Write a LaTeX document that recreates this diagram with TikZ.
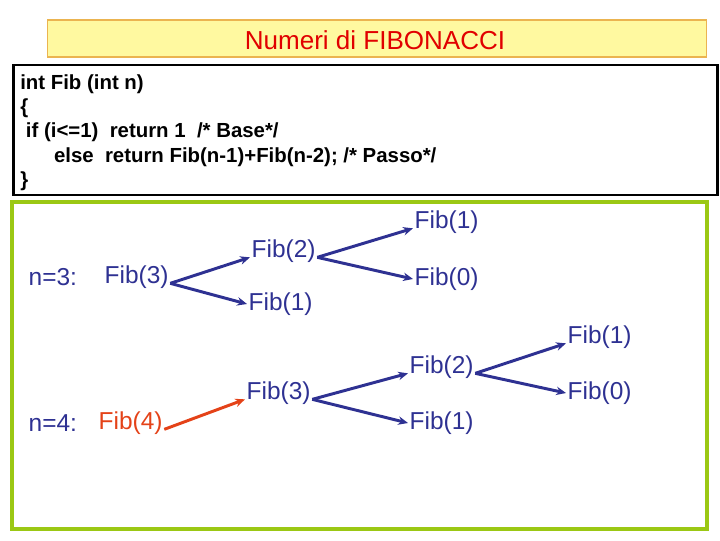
\documentclass[tikz,border=0pt]{standalone}
\usepackage{fontspec}
\setmainfont{Liberation Sans}
\usetikzlibrary{arrows.meta, positioning}

\definecolor{fibblue}{RGB}{46,49,146}
\definecolor{fibred}{RGB}{228,66,24}
\definecolor{leafgreen}{RGB}{155,200,20}
\definecolor{titlefill}{RGB}{255,249,160}
\definecolor{titleline}{RGB}{235,180,80}
\definecolor{titlered}{RGB}{225,0,0}

\begin{document}
\begin{tikzpicture}[
    x=0.025cm, y=-0.025cm,
    callarrow/.style={-{Stealth[length=7pt,width=6pt]}, line width=2.1pt, fibblue},
    fib/.style={font=\fontsize{17.4}{20}\selectfont, text=fibblue, inner sep=1pt, anchor=west},
]
\useasboundingbox (0,0) rectangle (720,540);

% ===================== TITLE =====================
\node[draw=titleline, fill=titlefill, line width=0.8pt,
      minimum width=16.45cm, minimum height=0.925cm] (titlebox) at (377,38.5) {};
\node[font=\fontsize{18.5}{20}\selectfont, text=titlered] (title) at (375,40)
    {Numeri di FIBONACCI};

% ===================== CODE =====================
\node[draw, line width=2.1pt, fill=white,
      minimum width=17.575cm, minimum height=3.25cm] (codebox) at (365.5,130) {};
\node[font=\bfseries\fontsize{14.5}{17.4}\selectfont, align=left, inner sep=0pt,
      anchor=north west] (code) at (20,74) {%
    int Fib (int n)\\
    \{\\
    \ if (i<=1)\ \ return 1\ \ /* Base*/\\
    \hspace*{24pt}else\ \ return Fib(n-1)+Fib(n-2); /* Passo*/\\
    \}};

% ===================== CALL TREES =====================
\node[draw=leafgreen, line width=2.8pt,
      minimum width=17.375cm, minimum height=8.175cm] (treebox) at (359.5,365.5) {};

% n = 3
\node[fib] (n3) at (27,277) {n=3:};
\node[fib] (a3) at (103,277) {Fib(3)};
\node[fib] (a2) at (250,251) {Fib(2)};
\node[fib] (a1) at (247,304) {Fib(1)};
\node[fib] (a11) at (413,222) {Fib(1)};
\node[fib] (a10) at (413,279) {Fib(0)};

\draw[callarrow] (a3.base east) -- (a2.base west);
\draw[callarrow] (a3.base east) -- (a1.west);
\draw[callarrow] (a2.base east) -- (a11.base west);
\draw[callarrow] (a2.base east) -- (a10.west);

% n = 4
\node[fib] (n4) at (27,423) {n=4:};
\node[fib, text=fibred] (b4) at (97,423) {Fib(4)};
\node[fib] (b3) at (245,393) {Fib(3)};
\node[fib] (b2) at (408,367) {Fib(2)};
\node[fib] (b1) at (408,423) {Fib(1)};
\node[fib] (b21) at (566,337) {Fib(1)};
\node[fib] (b20) at (566,393) {Fib(0)};

\draw[callarrow, fibred] (b4.base east) -- (b3.base west);
\draw[callarrow] (b3.base east) -- (b2.base west);
\draw[callarrow] (b3.base east) -- (b1.west);
\draw[callarrow] (b2.base east) -- (b21.base west);
\draw[callarrow] (b2.base east) -- (b20.west);

\end{tikzpicture}
\end{document}
